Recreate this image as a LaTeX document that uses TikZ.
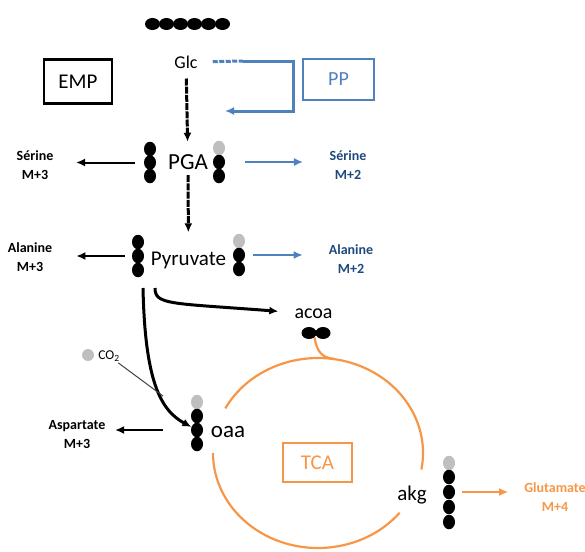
\documentclass[tikz,border=0pt]{standalone}
\usepackage{fontspec}
\setmainfont{Carlito}
\usepackage{tikz}
\definecolor{ppblue}{RGB}{79,129,189}
\definecolor{navy}{RGB}{31,73,125}
\definecolor{tcaorange}{RGB}{247,150,70}
\definecolor{lgrey}{RGB}{191,191,191}
\usetikzlibrary{arrows.meta}
\usetikzlibrary{shapes.geometric}
\pgfdeclarelayer{edgelayer}
\pgfdeclarelayer{nodelayer}
\pgfsetlayers{edgelayer,nodelayer,main}
\tikzstyle{cblack}=[ellipse,fill=black,minimum width=12pt,minimum height=14.5pt,inner sep=0pt]
\tikzstyle{cgrey}=[cblack,fill=lgrey]
\tikzstyle{chor}=[cblack,minimum width=15pt,minimum height=12pt]
\tikzstyle{metab}=[inner sep=0pt,font=\fontsize{21}{24}\selectfont]
\tikzstyle{prod}=[inner sep=0pt,align=center,font=\bfseries\fontsize{14}{19}\selectfont]
\tikzstyle{pathbox}=[draw,line width=2.5pt,font=\fontsize{21}{24}\selectfont]
\tikzstyle{glyco}=[->,line width=3pt,dash pattern=on 7pt off 1.2pt]

\begin{document}
\begin{tikzpicture}[x=1pt, y=-1pt, >={Latex[length=9pt,width=8pt]}]
        \useasboundingbox (0,0) rectangle (585,551);
        \begin{pgfonlayer}{nodelayer}
            \node [style = chor] (glc1) at (152.5, 24) {};
            \node [style = chor] (glc2) at (166.5, 24) {};
            \node [style = chor] (glc3) at (180.5, 24) {};
            \node [style = chor] (glc4) at (194.5, 24) {};
            \node [style = chor] (glc5) at (208.5, 24) {};
            \node [style = chor] (glc6) at (222.5, 24) {};
            \node [style = metab, font=\fontsize{18}{20}\selectfont] (glc) at (186, 62) {Glc};

            \node [style = pathbox, minimum width=68pt, minimum height=44pt] (emp) at (78, 81.5) {EMP};
            \node [style = pathbox, draw=ppblue, text=ppblue, minimum width=71pt, minimum height=41pt, font=\fontsize{20}{22}\selectfont] (pp) at (338.5, 79.5) {PP};

            \node [style = metab, font=\fontsize{23}{26}\selectfont] (pga) at (188, 162.5) {PGA};
            \node [style = cblack] (pgal1) at (150, 149) {};
            \node [style = cblack] (pgal2) at (150, 162.5) {};
            \node [style = cblack] (pgal3) at (150, 176) {};
            \node [style = cgrey] (pgar1) at (219, 148) {};
            \node [style = cblack] (pgar2) at (219, 162) {};
            \node [style = cblack] (pgar3) at (219, 176) {};
            \node [style = prod] (sermthree) at (35, 165) {Sérine\\M+3};
            \node [style = prod, text=navy] (sermtwo) at (348, 165) {Sérine\\M+2};

            \node [style = metab] (pyr) at (188.5, 260) {Pyruvate};
            \node [style = cblack] (pyrl1) at (138, 242) {};
            \node [style = cblack] (pyrl2) at (138, 256) {};
            \node [style = cblack] (pyrl3) at (138, 270) {};
            \node [style = cgrey] (pyrr1) at (239, 241) {};
            \node [style = cblack] (pyrr2) at (239, 255) {};
            \node [style = cblack] (pyrr3) at (239, 269) {};
            \node [style = prod] (alamthree) at (30, 257) {Alanine\\M+3};
            \node [style = prod, text=navy] (alamtwo) at (351, 259) {Alanine\\M+2};

            \node [style = metab, font=\fontsize{20}{22}\selectfont] (acoa) at (313.5, 314) {acoa};
            \node [style = chor] (acoa1) at (309, 333) {};
            \node [style = chor] (acoa2) at (323, 333) {};

            \node [style = cgrey, minimum width=12pt, minimum height=12pt] (co2dot) at (88, 355) {};
            \node [inner sep=0pt, font=\fontsize{13.5}{15}\selectfont] (co2) at (109, 356) {CO\textsubscript{2}};

            \node [style = metab, font=\fontsize{23}{26}\selectfont] (oaa) at (228, 432) {oaa};
            \node [style = cgrey] (oaa1) at (197, 402) {};
            \node [style = cblack] (oaa2) at (197, 416) {};
            \node [style = cblack] (oaa3) at (197, 430) {};
            \node [style = cblack] (oaa4) at (197, 444) {};
            \node [style = prod] (aspmthree) at (77, 435) {Aspartate\\M+3};

            \node [style = pathbox, draw=tcaorange, text=tcaorange, minimum width=69pt, minimum height=39pt] (tca) at (317.5, 462.5) {TCA};

            \node [style = metab] (akg) at (412, 495) {akg};
            \node [style = cgrey] (akg1) at (449, 463) {};
            \node [style = cblack] (akg2) at (449, 477) {};
            \node [style = cblack] (akg3) at (449, 492) {};
            \node [style = cblack] (akg4) at (449, 507) {};
            \node [style = cblack] (akg5) at (449, 522) {};
            \node [style = prod, text=tcaorange] (glumfour) at (555, 497) {Glutamate\\M+4};
        \end{pgfonlayer}

        \begin{pgfonlayer}{edgelayer}
            \coordinate (ppsplit) at (243, 61);
            \coordinate (ppcorner1) at (293, 61);
            \coordinate (ppcorner2) at (293, 111);
            \coordinate (ppend) at (225, 111);
            \coordinate (pyrfork1) at (143, 288);
            \coordinate (pyrfork2) at (155, 288);
            \coordinate (co2join) at (163, 396);
            \coordinate (tcac) at (318, 453);
            \coordinate (tcahook) at (335, 359);

            % glycolysis
            \draw [glyco, shorten <=10pt, shorten >=13pt] (glc) to (pga);
            \draw [glyco, shorten <=5pt, shorten >=19pt] (pga) to (pyr);

            % pentose phosphate
            \draw [ppblue, line width=3pt, dash pattern=on 5pt off 1.5pt, shorten <=15pt] (glc.east) to (ppsplit);
            \draw [ppblue, line width=3pt, ->] (ppsplit) -- (ppcorner1) -- (ppcorner2) -- (ppend);

            \draw [->, line width=2pt, shorten <=9pt, shorten >=22.5pt] (pgal2) to (pgal2 -| sermthree.east);
            \draw [ppblue, ->, line width=1.5pt, shorten <=20pt, shorten >=26.5pt] (pgar2) to (pgar2 -| sermtwo.west);
            \draw [->, line width=2pt, shorten <=7pt, shorten >=24pt] (pyrl2) to (pyrl2 -| alamthree.east);
            \draw [ppblue, ->, line width=1.5pt, shorten <=8pt, shorten >=26pt] (pyrr2) to (pyrr2 -| alamtwo.west);

            % pyruvate fates
            \draw [->, line width=3pt] (pyrfork1) .. controls (145, 380) and (160, 410) .. (oaa3);
            \draw [->, line width=3pt, shorten >=16pt] (pyrfork2) .. controls (155, 305) and (170, 303) .. (acoa);
            \draw [black!75, line width=1pt, shorten <=2pt] (co2) to (co2join);
            \draw [->, line width=1.8pt, shorten <=28pt, shorten >=9.5pt] (oaa3) to (oaa3 -| aspmthree.east);

            % TCA cycle
            \draw [tcaorange, line width=2.2pt] (tcac) ++(152:105pt and 95pt) arc [start angle=152, end angle=-10, x radius=105pt, y radius=95pt];
            \draw [tcaorange, line width=2.2pt] (tcac) ++(-39:105pt and 95pt) arc [start angle=-39, end angle=-180, x radius=105pt, y radius=95pt];
            \draw [tcaorange, line width=2.2pt] (acoa1.south east) .. controls (317, 352) and (322, 358) .. (tcahook);
            \draw [tcaorange, ->, line width=1.5pt, shorten <=7pt, shorten >=16pt] (akg3) to (akg3 -| glumfour.west);
        \end{pgfonlayer}
    \end{tikzpicture}
\end{document}
